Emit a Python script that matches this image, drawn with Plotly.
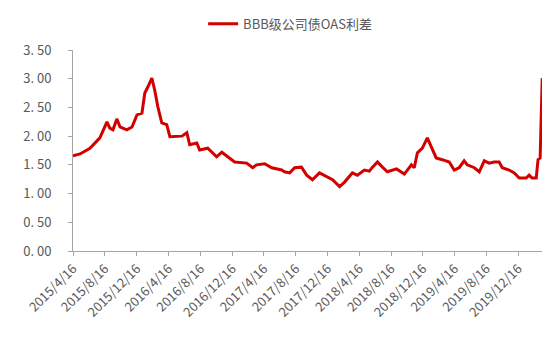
import plotly.graph_objects as go

dates = [
    "2015-04-16", "2015-05-13", "2015-06-20", "2015-07-09", "2015-07-28", "2015-08-24",
    "2015-09-04", "2015-09-16", "2015-10-01", "2015-10-13", "2015-11-08", "2015-11-28",
    "2015-12-17", "2016-01-05", "2016-01-16", "2016-01-28", "2016-02-12", "2016-02-23",
    "2016-03-06", "2016-03-21", "2016-04-09", "2016-04-21", "2016-05-18", "2016-06-06",
    "2016-06-25", "2016-07-06", "2016-08-02", "2016-08-13", "2016-09-13", "2016-10-17",
    "2016-11-06", "2016-11-29", "2016-12-25", "2017-02-09", "2017-03-04", "2017-03-19",
    "2017-04-19", "2017-05-16", "2017-06-23", "2017-07-04", "2017-07-24", "2017-08-12",
    "2017-09-07", "2017-09-27", "2017-10-19", "2017-11-15", "2017-12-12", "2018-01-04",
    "2018-01-31", "2018-02-19", "2018-03-21", "2018-04-09", "2018-05-06", "2018-05-25",
    "2018-06-06", "2018-06-25", "2018-07-14", "2018-08-02", "2018-09-06", "2018-10-06",
    "2018-11-02", "2018-11-13", "2018-11-25", "2018-12-14", "2019-01-02", "2019-01-17",
    "2019-02-05", "2019-02-28", "2019-03-27", "2019-04-15", "2019-05-04", "2019-05-23",
    "2019-06-04", "2019-07-01", "2019-07-20", "2019-08-08", "2019-08-27", "2019-09-15",
    "2019-10-04", "2019-10-16", "2019-11-11", "2019-12-01", "2019-12-20", "2020-01-16",
    "2020-01-27", "2020-02-07", "2020-02-23", "2020-03-01", "2020-03-09", "2020-03-17",
]
oas_spread = [
    1.66, 1.69, 1.79, 1.88, 1.97, 2.25,
    2.14, 2.11, 2.30, 2.16, 2.11, 2.16,
    2.37, 2.40, 2.75, 2.86, 3.01, 2.80,
    2.51, 2.23, 2.20, 1.99, 2.00, 2.00,
    2.06, 1.85, 1.88, 1.76, 1.79, 1.64,
    1.72, 1.64, 1.55, 1.53, 1.45, 1.50,
    1.52, 1.45, 1.41, 1.38, 1.36, 1.45,
    1.46, 1.32, 1.24, 1.36, 1.29, 1.24,
    1.12, 1.20, 1.36, 1.32, 1.41, 1.39,
    1.46, 1.55, 1.46, 1.38, 1.43, 1.34,
    1.50, 1.45, 1.71, 1.79, 1.97, 1.81,
    1.62, 1.59, 1.55, 1.41, 1.45, 1.57,
    1.50, 1.45, 1.38, 1.57, 1.53, 1.55,
    1.55, 1.45, 1.41, 1.36, 1.27, 1.27,
    1.32, 1.27, 1.27, 1.59, 1.62, 3.01,
]
series_name = "BBB级公司债OAS利差"
x_tick_dates = [
    "2015-04-16", "2015-08-16", "2015-12-16", "2016-04-16", "2016-08-16",
    "2016-12-16", "2017-04-16", "2017-08-16", "2017-12-16", "2018-04-16",
    "2018-08-16", "2018-12-16", "2019-04-16", "2019-08-16", "2019-12-16",
]
x_tick_labels = [
    "2015/4/16", "2015/8/16", "2015/12/16", "2016/4/16", "2016/8/16",
    "2016/12/16", "2017/4/16", "2017/8/16", "2017/12/16", "2018/4/16",
    "2018/8/16", "2018/12/16", "2019/4/16", "2019/8/16", "2019/12/16",
]
y_tick_vals = [0, 0.5, 1.0, 1.5, 2.0, 2.5, 3.0, 3.5]
y_tick_labels = ["0. 00", "0. 50", "1. 00", "1. 50", "2. 00", "2. 50", "3. 00", "3. 50"]

FONT = "Noto Sans CJK SC, Noto Sans, sans-serif"
GRAY = "#595959"
AXIS = "#A6A6A6"

fig = go.Figure()
fig.add_trace(go.Scatter(
    x=dates, y=oas_spread, mode="lines", name=series_name,
    line=dict(color="#D40000", width=3),
))

fig.update_layout(
    width=542, height=330,
    margin=dict(l=65, r=7, t=42, b=87),
    paper_bgcolor="white", plot_bgcolor="white",
    font=dict(family=FONT, color=GRAY, size=12),
    showlegend=True,
    legend=dict(
        orientation="h", xref="container", x=0.36, xanchor="left",
        yref="container", y=0.952, yanchor="middle",
        font=dict(size=13, color=GRAY), itemwidth=30,
    ),
    xaxis=dict(
        type="date", range=["2015-04-16", "2020-03-20"], automargin=False,
        tickvals=x_tick_dates, ticktext=x_tick_labels, tickangle=-45,
        showgrid=False, zeroline=False,
        showline=True, linecolor=AXIS, linewidth=1,
        ticks="outside", ticklen=4, tickcolor=AXIS,
        tickfont=dict(size=13, color=GRAY),
    ),
    yaxis=dict(
        range=[0, 3.5], tickvals=y_tick_vals, ticktext=y_tick_labels, automargin=False,
        showgrid=False, zeroline=False,
        showline=True, linecolor=AXIS, linewidth=1,
        ticks="outside", ticklen=4, tickcolor=AXIS,
        tickfont=dict(size=13, color=GRAY), ticklabelstandoff=14,
    ),
)

fig.write_html("out.html")
